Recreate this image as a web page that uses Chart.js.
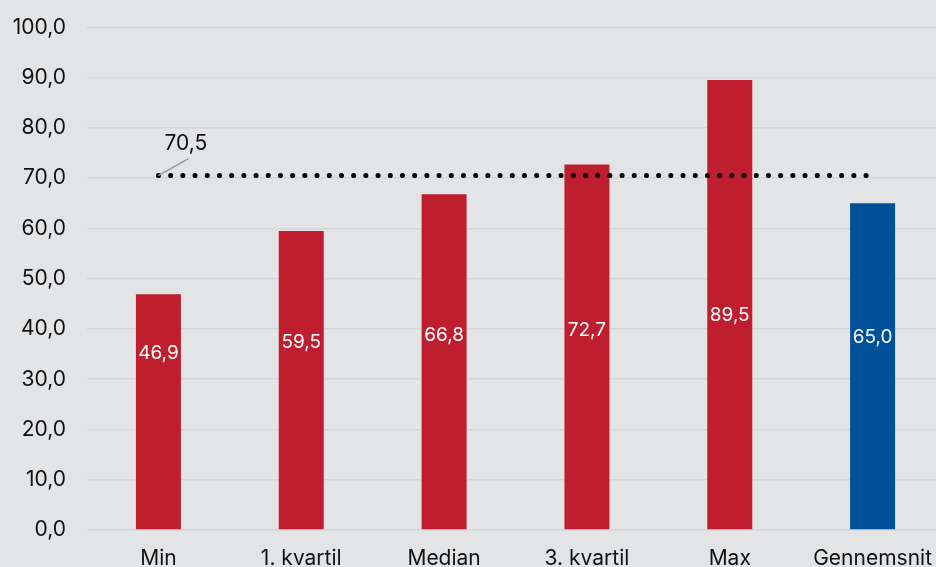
<!DOCTYPE html>
<html>
<head>
<meta charset="utf-8">
<script src="https://cdn.jsdelivr.net/npm/chart.js@4"></script>
<style>
    html, body { margin: 0; padding: 0; background: #e3e4e6; overflow: hidden; }
    #wrap { width: 936px; height: 567px; overflow: hidden; }
    #wrap div { width: 948px; height: 567px; position: relative; }
</style>
</head>
<body>
<div id="wrap"><div><canvas id="chart"></canvas></div></div>
<script>
// Chart data.
var categories = ['Min', '1. kvartil', 'Median', '3. kvartil', 'Max', 'Gennemsnit'];
var values = [46.9, 59.5, 66.8, 72.7, 89.5, 65.0];
var barColors = ['#be1e2d', '#be1e2d', '#be1e2d', '#be1e2d', '#be1e2d', '#00509b'];
var referenceValue = 70.5;
var yTicks = [0, 10, 20, 30, 40, 50, 60, 70, 80, 90, 100];

var FONT = 'Inter, "Noto Sans", sans-serif';

function fmt(v) {
    return v.toFixed(1).replace('.', ',');
}

/**
 * White value labels inside the bars, plus the callout for the dotted line.
 */
var labelsPlugin = {
    id: 'labels',
    afterDatasetsDraw: function(chart) {
        var ctx = chart.ctx;
        var xs = chart.scales.x;
        var ys = chart.scales.y;
        var meta = chart.getDatasetMeta(1);

        ctx.save();
        ctx.font = '19px ' + FONT;
        ctx.fillStyle = '#ffffff';
        ctx.textAlign = 'center';
        ctx.textBaseline = 'middle';
        meta.data.forEach(function(bar, i) {
            var y = ys.getPixelForValue(27 + values[i] * 0.175);
            ctx.fillText(fmt(values[i]), bar.x, y);
        });

        // Callout for the reference line.
        var x0 = xs.getPixelForValue(0);
        var y0 = ys.getPixelForValue(referenceValue);
        ctx.strokeStyle = '#9a9a9a';
        ctx.lineWidth = 1.5;
        ctx.beginPath();
        ctx.moveTo(x0, y0);
        ctx.lineTo(x0 + 30, y0 - 17);
        ctx.stroke();

        ctx.fillStyle = '#111111';
        ctx.font = '21px ' + FONT;
        ctx.textAlign = 'left';
        ctx.fillText(fmt(referenceValue), x0 + 6, y0 - 32);
        ctx.restore();
    }
};

var ctx = document.getElementById('chart').getContext('2d');
new Chart(ctx, {
    type: 'bar',
    data: {
        labels: categories,
        datasets: [
            {
                type: 'line',
                data: categories.map(function() { return referenceValue; }),
                borderColor: '#000000',
                borderWidth: 5,
                borderDash: [0.1, 12.1],
                borderCapStyle: 'round',
                pointRadius: 0,
                fill: false,
                order: 0
            },
            {
                data: values,
                backgroundColor: barColors,
                barPercentage: 0.315,
                categoryPercentage: 1,
                order: 1
            }
        ]
    },
    options: {
        responsive: true,
        maintainAspectRatio: false,
        animation: false,
        layout: {
            padding: { top: 17, right: 0, bottom: 0, left: 0 }
        },
        plugins: {
            legend: { display: false },
            tooltip: { enabled: false }
        },
        scales: {
            x: {
                grid: { display: false, drawTicks: false },
                border: { display: false },
                ticks: {
                    color: '#111111',
                    font: { family: FONT, size: 21 },
                    padding: 16,
                    maxRotation: 0
                },
                afterFit: function(scale) {
                    scale.height = 37;
                }
            },
            y: {
                min: 0,
                max: 100,
                afterBuildTicks: function(scale) {
                    scale.ticks = yTicks.map(function(v) { return { value: v }; });
                },
                grid: { color: '#d4d5d8', lineWidth: 1.5, drawTicks: false },
                border: { display: false },
                ticks: {
                    color: '#111111',
                    font: { family: FONT, size: 21, lineHeight: 0.6 },
                    padding: 21,
                    callback: function(v) { return fmt(v); }
                },
                afterFit: function(scale) {
                    scale.width = 87;
                }
            }
        }
    },
    plugins: [labelsPlugin]
});
</script>
</body>
</html>
